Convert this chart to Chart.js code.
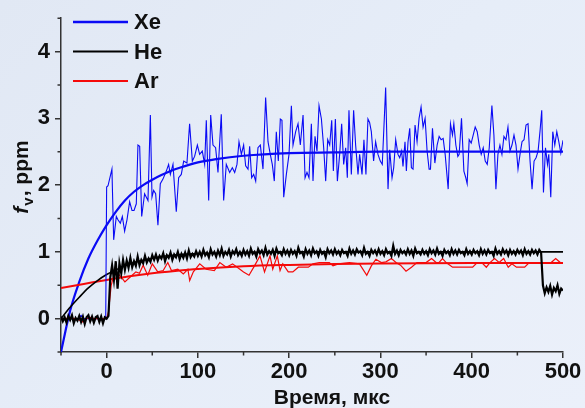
<!DOCTYPE html>
<html>
<head>
<meta charset="utf-8">
<script src="https://cdn.jsdelivr.net/npm/chart.js@4/dist/chart.umd.min.js"></script>
<style>
  html, body { margin: 0; padding: 0; }
  body { width: 585px; height: 408px; background: linear-gradient(135deg, #e1e8f4 0%, #e6edf8 50%, #ebf0fa 100%); overflow: hidden; }
  #wrap { position: relative; width: 585px; height: 408px; }
</style>
</head>
<body>
<div id="wrap"><canvas id="chart" width="585" height="408"></canvas></div>
<script>
// Xe - raw signal (time, value)
const xeT = [-50, -40, -31, -28, -25, -1, 0, 1.5, 5.8, 7.7, 10.6, 12.4, 15, 17.2, 19.7, 22.3, 25.2, 27.8, 30, 32.5, 34.3, 36.2, 38.4, 41.6, 45.3, 47.9, 49.7, 51.5, 53.7, 56.2, 58.8, 61.7, 65.4, 67.9, 69.8, 72.7, 76.3, 78.9, 81.8, 84.4, 88, 90.9, 93.9, 96.4, 99.4, 101.9, 104.8, 107.4, 109.2, 111.8, 114, 116.5, 119.4, 122, 125.6, 128.2, 131.1, 134.8, 137.7, 140.3, 142.8, 145, 147.6, 150.1, 152.3, 154.9, 156.7, 158.9, 161.1, 163.3, 165.8, 168.4, 171.3, 174.2, 176.8, 179.3, 181.5, 183.7, 185.9, 188.1, 190.3, 192.1, 194, 196.9, 199.8, 202.4, 204.2, 207.1, 209.7, 212.2, 215.2, 217.4, 219.5, 221.7, 224.3, 226.1, 228.3, 230.5, 232.7, 235.3, 237.8, 240, 242.2, 244.4, 246.6, 248.4, 250.6, 252.8, 255.3, 257.5, 259.7, 261.9, 263.7, 265.5, 268.1, 270.6, 272.8, 275.4, 277.2, 279.8, 281.9, 284.1, 286.3, 288.1, 290, 292.5, 294.7, 297.3, 299.8, 302, 305.7, 308.3, 310.1, 312.7, 314.5, 316.7, 319.2, 321.1, 323.2, 324.7, 326.9, 328.4, 330.2, 332.1, 333.9, 335.7, 337.9, 340.1, 342.3, 344.5, 346.7, 348.9, 351.1, 353.3, 354.8, 357, 359.6, 362.1, 364.3, 366.5, 368.7, 370.9, 374.2, 376.7, 378.9, 380.4, 382.6, 384.8, 386.2, 388.8, 391.4, 393.5, 395, 397.2, 399.4, 401.6, 403.8, 406, 408.2, 410.4, 412.6, 414.8, 417, 419.2, 422.1, 424.3, 426.5, 428.7, 430.9, 433.1, 435.3, 437.5, 439.7, 441.9, 444.1, 446.3, 448.5, 450.7, 452.9, 455.1, 457.3, 459.5, 461.7, 463.9, 466.1, 468.3, 470.5, 472.7, 474.9, 476.7, 478.6, 480.8, 483, 484.4, 486.6, 488.8, 491, 493.2, 495.4, 497.6, 500];
const xeV = [0, 0, 0, 0.05, 0, 0, 1.97, 1.99, 2.24, 1.18, 1.53, 1.48, 1.43, 1.53, 1.31, 1.48, 1.75, 1.62, 1.62, 1.72, 2.6, 2.58, 1.53, 1.87, 1.77, 3.05, 1.82, 1.92, 1.87, 1.40, 2.02, 2.09, 2.21, 2.31, 2.16, 2.31, 1.60, 2.11, 2.16, 2.36, 2.33, 2.92, 2.36, 2.43, 2.6, 2.46, 2.51, 2.31, 2.97, 1.77, 3.05, 2.6, 2.56, 2.19, 3.06, 1.77, 2.31, 2.19, 2.26, 2.19, 2.31, 2.65, 2.46, 2.6, 2.29, 2.24, 2.58, 2.11, 2.16, 2.06, 2.56, 2.6, 2.24, 3.31, 2.65, 2.46, 2.31, 2.06, 2.8, 2.36, 2.99, 2.97, 1.82, 2.16, 2.46, 3.19, 2.6, 2.8, 2.92, 2.6, 3.05, 2.11, 2.19, 2.11, 2.92, 2.06, 2.73, 2.51, 3.19, 2.99, 2.56, 2.06, 2.68, 2.6, 2.97, 2.21, 2.99, 2.06, 2.46, 2.92, 2.31, 2.56, 2.11, 3.12, 2.16, 3.12, 2.6, 2.16, 2.46, 2.16, 2.68, 2.16, 2.99, 2.94, 2.8, 2.36, 2.65, 2.46, 2.36, 2.31, 3.46, 1.94, 2.53, 2.11, 2.26, 2.68, 2.46, 2.41, 2.51, 2.28, 2.65, 2.21, 2.65, 2.85, 2.26, 2.24, 2.9, 2.65, 3.0, 3.17, 2.87, 3.0, 2.51, 2.24, 2.24, 2.85, 2.33, 2.6, 2.73, 2.68, 2.7, 2.46, 1.94, 2.92, 2.75, 2.92, 2.6, 2.43, 2.46, 3.0, 2.21, 2.11, 2.02, 2.68, 2.63, 2.75, 2.87, 2.8, 2.6, 2.46, 2.56, 2.36, 2.31, 2.56, 3.19, 2.75, 1.94, 2.46, 2.6, 2.46, 2.73, 2.68, 2.87, 2.51, 2.6, 2.75, 2.6, 2.24, 2.46, 2.65, 2.68, 2.9, 2.92, 2.36, 1.94, 2.36, 2.41, 2.51, 2.82, 3.12, 1.89, 2.56, 2.31, 2.46, 1.82, 2.80, 2.6, 2.8, 2.65, 2.48, 2.67];

// Xe - fitted curve
const xeFitT = [-50, -40, -30, -20, -10, 0, 10, 20, 30, 40, 50, 60, 70, 80, 100, 120, 150, 200, 250, 300, 400, 500];
const xeFitV = [-0.5, 0.12, 0.55, 0.9, 1.17, 1.4, 1.6, 1.77, 1.9, 2.0, 2.08, 2.15, 2.21, 2.26, 2.34, 2.39, 2.44, 2.48, 2.49, 2.5, 2.5, 2.5];

// He - raw signal, sampled every 2 us from -50 us
const heStart = -50, heStep = 2;
const heV = [
  0.03, -0.04, 0.02, -0.06, 0.04, -0.02, 0.05, -0.07, 0.01, -0.03, 0.04, -0.05, 0.03, -0.08, 0.02, 0.05, -0.04, 0.03, -0.06, 0.02, 0.04, -0.05, 0.03, -0.07, 0.02,
  0.00, 0.04, 0.62, 0.80, 0.58, 0.86, 0.45, 0.83, 0.68, 0.88, 0.73, 0.87, 0.76, 0.91, 0.77, 0.86, 0.79, 0.93, 0.80, 0.88, 0.83, 0.94, 0.84, 0.90, 0.85,
  0.95, 0.88, 0.96, 0.87, 0.94, 0.90, 0.98, 0.86, 0.95, 0.91, 0.99, 0.88, 0.96, 0.92, 1.00, 0.89, 0.97, 0.91, 0.99, 0.90, 1.02, 0.92, 0.97, 0.93, 1.01,
  0.94, 1.00, 0.93, 1.03, 0.95, 0.99, 0.92, 1.04, 0.96, 1.00, 0.93, 1.02, 0.95, 1.05, 0.94, 1.00, 0.96, 1.03, 0.93, 1.01, 0.97, 1.04, 0.95, 1.00, 0.94,
  1.03, 0.96, 1.01, 0.94, 1.05, 0.97, 1.00, 0.93, 1.04, 0.98, 1.02, 0.95, 1.06, 0.96, 1.01, 0.97, 1.03, 0.94, 1.05, 0.98, 1.00, 0.95, 1.04, 0.97, 1.02,
  0.95, 1.03, 0.97, 1.01, 0.94, 1.06, 0.98, 1.00, 0.93, 1.04, 0.97, 1.02, 0.95, 1.05, 0.98, 1.01, 0.94, 1.03, 0.97, 1.00, 0.92, 1.04, 0.98, 1.02, 0.96,
  1.04, 0.97, 1.01, 0.95, 1.03, 0.98, 1.00, 0.94, 1.05, 0.97, 1.02, 0.96, 1.04, 0.99, 1.01, 0.95, 1.06, 0.97, 1.00, 0.94, 1.03, 0.98, 1.02, 0.96, 1.04,
  0.97, 1.01, 0.95, 1.04, 0.98, 1.00, 0.94, 1.09, 0.97, 1.02, 0.95, 1.03, 0.98, 1.01, 0.96, 1.04, 0.97, 1.02, 0.94, 1.05, 0.98, 1.00, 0.96, 1.03, 0.97,
  1.01, 0.95, 1.04, 0.98, 1.02, 0.96, 1.05, 0.97, 1.00, 0.94, 1.03, 0.98, 1.01, 0.95, 1.04, 0.97, 1.02, 0.96, 1.03, 0.98, 1.00, 0.95, 1.04, 0.97, 1.01,
  0.96, 1.03, 0.98, 1.01, 0.95, 1.04, 0.97, 1.02, 0.96, 1.03, 0.98, 1.00, 0.94, 1.05, 0.97, 1.01, 0.96, 1.04, 0.98, 1.02, 0.95, 1.03, 0.97, 1.01, 0.96,
  1.03, 0.98, 1.02, 0.95, 1.04, 0.97, 1.01, 0.96, 1.03, 0.98, 1.02, 0.96, 1.03, 0.99,
  0.50, 0.38, 0.47, 0.40, 0.49, 0.36, 0.46, 0.41, 0.50, 0.37, 0.45, 0.42
];

// He - fitted curve
const heFitT = [-50, -40, -30, -20, -10, 0, 10, 20, 30, 40, 50, 60, 80, 100, 150, 200, 300, 500];
const heFitV = [0, 0.17, 0.32, 0.46, 0.57, 0.66, 0.73, 0.79, 0.84, 0.875, 0.905, 0.93, 0.96, 0.975, 0.99, 1.0, 1.0, 1.0];

// Ar - raw signal
const arT = [-50, -45, -40, -35, -30, -26, -22, -18, -14, -10, -5, 0, 2, 5, 8, 12, 16, 20, 24, 28, 32, 36, 40, 45, 50, 56, 62, 67, 71, 78, 84, 89, 91, 95, 102, 109, 118, 124, 131, 138, 146, 150, 156, 162, 168, 173, 179, 182, 187, 190, 193, 199, 204, 210, 221, 226, 233, 239, 244, 248, 254, 266, 277, 285, 290, 295, 301, 306, 312, 317, 322, 328, 334, 340, 350, 356, 361, 364, 368, 372, 379, 401, 406, 411, 416, 420, 425, 430, 435, 440, 444, 449, 458, 463, 487, 492, 497, 500];
const arV = [0, 0, 0.01, 0, -0.02, -0.05, 0, 0.02, 0, 0, 0, 0, 0.1, 0.5, 0.66, 0.68, 0.62, 0.55, 0.6, 0.65, 0.7, 0.68, 0.8, 0.65, 0.82, 0.7, 0.72, 0.84, 0.72, 0.74, 0.67, 0.74, 0.57, 0.7, 0.82, 0.74, 0.72, 0.84, 0.77, 0.82, 0.74, 0.7, 0.65, 0.79, 0.94, 0.7, 0.94, 0.74, 0.94, 0.72, 0.82, 0.7, 0.7, 0.77, 0.77, 0.82, 0.84, 0.84, 0.84, 0.79, 0.82, 0.84, 0.82, 0.65, 0.79, 0.89, 0.84, 0.85, 0.9, 0.84, 0.8, 0.71, 0.77, 0.84, 0.84, 0.9, 0.84, 0.84, 0.9, 0.84, 0.77, 0.77, 0.84, 0.84, 0.77, 0.84, 0.9, 0.84, 0.9, 0.77, 0.82, 0.77, 0.77, 0.84, 0.84, 0.9, 0.84, 0.84];

// Ar - fitted curve
const arFitT = [-50, -25, 0, 25, 50, 75, 100, 150, 200, 250, 300, 400, 500];
const arFitV = [0.46, 0.52, 0.58, 0.635, 0.68, 0.715, 0.745, 0.785, 0.805, 0.818, 0.825, 0.832, 0.835];

// axis ticks
const xMajor = [0, 100, 200, 300, 400, 500];
const xMinor = [-50, 50, 150, 250, 350, 450];
const yMajor = [0, 1, 2, 3, 4];
const yMinor = [-0.5, 0.5, 1.5, 2.5, 3.5, 4.5];

const BLUE = '#0a0af5', RED = '#f50a0a', BLACK = '#000000';

const legendItems = [
  { label: 'Xe', color: BLUE, width: 2.5 },
  { label: 'He', color: BLACK, width: 1.8 },
  { label: 'Ar', color: RED, width: 1.8 }
];

const pair = (ts, vs) => ts.map((t, i) => ({ x: t, y: vs[i] }));
const heData = heV.map((v, i) => ({ x: heStart + i * heStep, y: v }));

const FONT = "'Liberation Sans', Arial, sans-serif";
const AXIS = '#333333';

function line(data, color, width, smooth) {
  return {
    data: data,
    borderColor: color,
    borderWidth: width,
    pointRadius: 0,
    fill: false,
    tension: 0,
    cubicInterpolationMode: smooth ? 'monotone' : 'default'
  };
}

// minor ticks, legend and axis titles
const extras = {
  id: 'extras',
  afterDraw(chart) {
    const ctx = chart.ctx;
    const xs = chart.scales.x, ys = chart.scales.y;
    const area = chart.chartArea;
    ctx.save();
    ctx.strokeStyle = AXIS;
    ctx.lineWidth = 1.5;
    ctx.beginPath();
    xMinor.forEach(v => {
      const px = xs.getPixelForValue(v);
      ctx.moveTo(px, area.bottom);
      ctx.lineTo(px, area.bottom + 3.5);
    });
    yMinor.forEach(v => {
      const py = ys.getPixelForValue(v);
      ctx.moveTo(area.left, py);
      ctx.lineTo(area.left - 3.5, py);
    });
    ctx.stroke();

    // legend
    ctx.font = 'bold 22px ' + FONT;
    ctx.textBaseline = 'middle';
    ctx.fillStyle = '#111';
    legendItems.forEach((it, i) => {
      const y = 22 + i * 29.5;
      ctx.strokeStyle = it.color;
      ctx.lineWidth = it.width;
      ctx.beginPath();
      ctx.moveTo(73, y);
      ctx.lineTo(128, y);
      ctx.stroke();
      ctx.fillText(it.label, 134, y + 1);
    });

    // x title
    ctx.textBaseline = 'alphabetic';
    ctx.textAlign = 'center';
    ctx.font = 'bold 21px ' + FONT;
    ctx.fillText('Время, мкс', 332, 404);

    // y title: f_v, ppm
    ctx.translate(28, 177);
    ctx.rotate(-Math.PI / 2);
    ctx.textAlign = 'left';
    const fPart = 'f';
    const rest = ', ppm';
    ctx.font = 'italic bold 21px ' + FONT;
    const wf = ctx.measureText(fPart).width;
    ctx.font = 'bold 15px ' + FONT;
    const wv = ctx.measureText('v').width;
    ctx.font = 'bold 21px ' + FONT;
    const wr = ctx.measureText(rest).width;
    let x0 = -(wf + wv + 2 + wr) / 2;
    ctx.font = 'italic bold 21px ' + FONT;
    ctx.fillText(fPart, x0, 0);
    x0 += wf + 1;
    ctx.font = 'bold 15px ' + FONT;
    ctx.fillText('v', x0, 5);
    x0 += wv + 1;
    ctx.font = 'bold 21px ' + FONT;
    ctx.fillText(rest, x0, 0);
    ctx.restore();
  }
};

new Chart(document.getElementById('chart').getContext('2d'), {
  type: 'line',
  data: {
    datasets: [
      line(heData, BLACK, 2.2, false),
      line(pair(arT, arV), RED, 1.2, false),
      line(pair(xeT, xeV), BLUE, 1.1, false),
      line(pair(heFitT, heFitV), BLACK, 1.6, true),
      line(pair(arFitT, arFitV), RED, 2, true),
      line(pair(xeFitT, xeFitV), BLUE, 2.2, true)
    ]
  },
  options: {
    responsive: false,
    animation: false,
    devicePixelRatio: 1,
    layout: { padding: { top: 11, right: 22, left: 0, bottom: 0 } },
    plugins: { legend: { display: false }, tooltip: { enabled: false } },
    scales: {
      x: {
        type: 'linear',
        min: -50,
        max: 500,
        afterBuildTicks: s => { s.ticks = xMajor.map(v => ({ value: v })); },
        afterFit: s => { s.height = 56; },
        ticks: { autoSkip: false, maxRotation: 0, padding: 1, color: '#111', font: { family: FONT, size: 22, weight: 'bold' } },
        grid: { drawOnChartArea: false, drawTicks: true, tickLength: 6, color: AXIS, lineWidth: 1.5 },
        border: { display: true, color: AXIS, width: 1.5 }
      },
      y: {
        min: -0.5,
        max: 4.5,
        afterBuildTicks: s => { s.ticks = yMajor.map(v => ({ value: v })); },
        afterFit: s => { s.width = 61; },
        ticks: { padding: 5, color: '#111', font: { family: FONT, size: 22, weight: 'bold' } },
        grid: { drawOnChartArea: false, drawTicks: true, tickLength: 6, color: AXIS, lineWidth: 1.5 },
        border: { display: true, color: AXIS, width: 1.5 }
      }
    }
  },
  plugins: [extras]
});
</script>
</body>
</html>
